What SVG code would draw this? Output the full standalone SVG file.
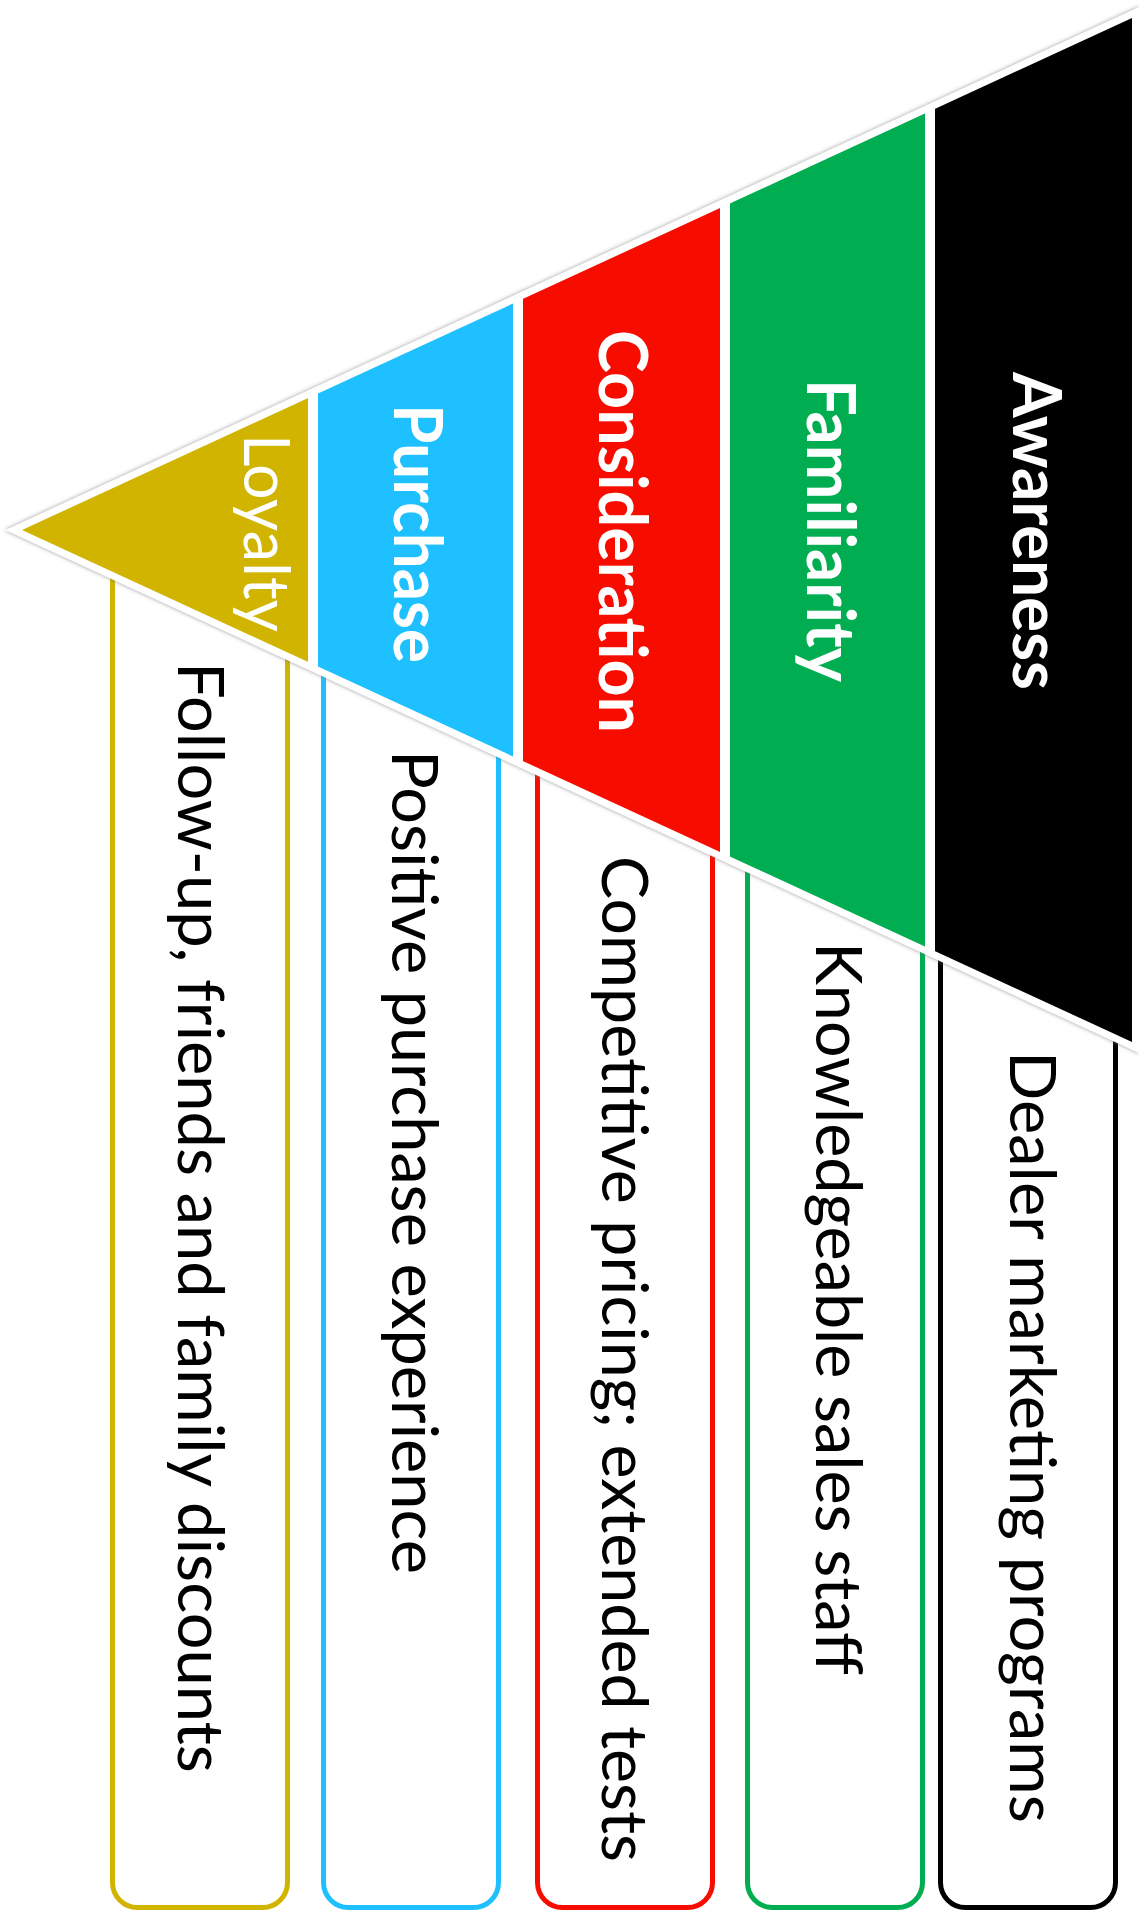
<svg xmlns="http://www.w3.org/2000/svg" width="1139" height="1918" viewBox="0 0 1139 1918">
  <style>
    .box { fill: none; stroke-width: 5; }
    .body { font-family: Lato, "Open Sans", sans-serif; font-size: 63px; fill: #000; }
    .title { font-family: Lato, "Open Sans", sans-serif; font-size: 66px; font-weight: bold; fill: #fff; }
    .title-reg { font-family: Lato, "Open Sans", sans-serif; font-size: 63px; fill: #fff; }
  </style>
  <defs>
    <clipPath id="tri">
      <polygon points="22,530 1132,18 1132,1042"/>
    </clipPath>
    <filter id="shadow" x="-5%" y="-5%" width="110%" height="110%">
      <feDropShadow dx="0" dy="0" stdDeviation="2" flood-color="#777" flood-opacity="0.8"/>
    </filter>
  </defs>
  <rect width="1139" height="1918" fill="#fff"/>

  <!-- description boxes -->
  <g id="box-loyalty">
    <rect class="box" x="112.5" y="530" width="175" height="1377.5" rx="25" stroke="#D0B400"/>
    <text class="body" transform="translate(178,662) rotate(90)" textLength="1111" lengthAdjust="spacingAndGlyphs">Follow-up, friends and family discounts</text>
  </g>
  <g id="box-purchase">
    <rect class="box" x="323.5" y="530" width="175" height="1377.5" rx="25" stroke="#1EC0FF"/>
    <text class="body" transform="translate(392,750) rotate(90)" textLength="824" lengthAdjust="spacingAndGlyphs">Positive purchase experience</text>
  </g>
  <g id="box-consideration">
    <rect class="box" x="537.5" y="530" width="175" height="1377.5" rx="25" stroke="#F70D00"/>
    <text class="body" transform="translate(602,856) rotate(90)" textLength="1006" lengthAdjust="spacingAndGlyphs">Competitive pricing; extended tests</text>
  </g>
  <g id="box-familiarity">
    <rect class="box" x="747.5" y="530" width="175" height="1377.5" rx="25" stroke="#00AD50"/>
    <text class="body" transform="translate(816,942) rotate(90)" textLength="733" lengthAdjust="spacingAndGlyphs">Knowledgeable sales staff</text>
  </g>
  <g id="box-awareness">
    <rect class="box" x="940.5" y="530" width="175" height="1377.5" rx="25" stroke="#000"/>
    <text class="body" transform="translate(1010,1051) rotate(90)" textLength="772" lengthAdjust="spacingAndGlyphs">Dealer marketing programs</text>
  </g>

  <!-- funnel outline -->
  <g id="funnel-outline">
    <polygon points="22,530 1132,18 1132,1042" fill="#fff" stroke="#fff" stroke-width="14" stroke-linejoin="miter" filter="url(#shadow)"/>
  </g>

  <g id="connectors"/>

  <!-- funnel stages -->
  <g clip-path="url(#tri)">
    <g id="stage-loyalty">
      <rect x="0" y="0" width="308" height="1100" fill="#D0B400"/>
    </g>
    <g id="stage-purchase">
      <rect x="318" y="0" width="195" height="1100" fill="#1EC0FF"/>
    </g>
    <g id="stage-consideration">
      <rect x="523" y="0" width="197" height="1100" fill="#F70D00"/>
    </g>
    <g id="stage-familiarity">
      <rect x="730" y="0" width="195" height="1100" fill="#00AD50"/>
    </g>
    <g id="stage-awareness">
      <rect x="935" y="0" width="197" height="1100" fill="#000"/>
    </g>
  </g>

  <g id="stage-labels">
    <text class="title-reg" transform="translate(244,434) rotate(90)" textLength="198" lengthAdjust="spacingAndGlyphs">Loyalty</text>
    <text class="title" transform="translate(394,404) rotate(90)" textLength="259" lengthAdjust="spacingAndGlyphs">Purchase</text>
    <text class="title" transform="translate(599,330) rotate(90)" textLength="403" lengthAdjust="spacingAndGlyphs">Consideration</text>
    <text class="title" transform="translate(807,379) rotate(90)" textLength="303" lengthAdjust="spacingAndGlyphs">Familiarity</text>
    <text class="title" transform="translate(1013,372) rotate(90)" textLength="318" lengthAdjust="spacingAndGlyphs">Awareness</text>
  </g>
</svg>
